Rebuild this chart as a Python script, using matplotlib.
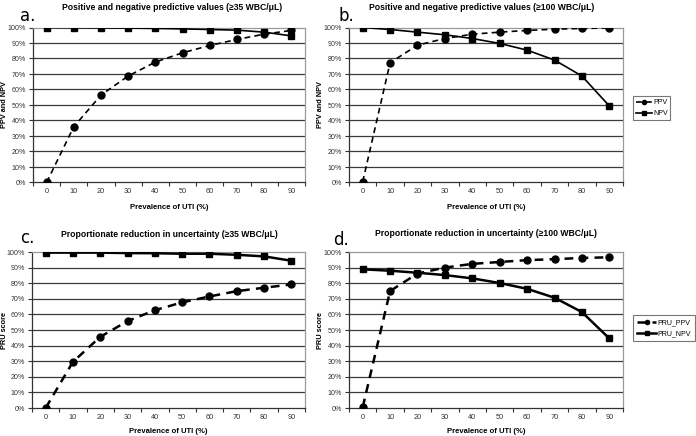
import matplotlib
matplotlib.use("Agg")
import matplotlib.pyplot as plt
from matplotlib.ticker import FixedLocator
import numpy as np

plt.rcParams['font.family'] = ['Liberation Sans', 'DejaVu Sans']

prevalence = [0, 10, 20, 30, 40, 50, 60, 70, 80, 90]
pct_ticks = [0, 10, 20, 30, 40, 50, 60, 70, 80, 90, 100]

# a. >=35 WBC/uL predictive values
ppv_35 = [0, 36.0, 56.4, 68.7, 77.7, 83.7, 88.4, 92.3, 95.7, 98.1]
npv_35 = [99.9, 99.8, 99.7, 99.6, 99.4, 99.1, 98.7, 98.3, 97.0, 94.6]
# b. >=100 WBC/uL predictive values
ppv_100 = [0.5, 77.3, 88.6, 92.9, 95.7, 97.0, 98.1, 98.9, 99.4, 99.7]
npv_100 = [100, 98.7, 97.0, 95.3, 92.9, 89.7, 85.4, 79.0, 68.7, 49.4]
# c. >=35 WBC/uL PRU
pru_ppv_35 = [0, 29.6, 45.6, 55.7, 62.7, 67.7, 71.5, 74.9, 77.1, 79.2]
pru_npv_35 = [99.6, 99.6, 99.6, 99.3, 99.2, 98.9, 98.9, 98.2, 97.2, 94.4]
# d. >=100 WBC/uL PRU
pru_ppv_100 = [0.5, 75.0, 86.2, 90.0, 92.4, 93.6, 94.8, 95.4, 96.2, 96.6]
pru_npv_100 = [88.9, 88.0, 86.7, 85.2, 83.1, 80.1, 76.4, 70.7, 61.5, 44.6]

W, H = 696.0, 436.0
fig = plt.figure(figsize=(6.96, 4.36), dpi=100)


def make_ax(left, top, right, bottom):
    return fig.add_axes([left / W, 1 - bottom / H, (right - left) / W, (bottom - top) / H])


def style_ax(ax):
    n = len(prevalence)
    ax.set_xlim(-0.5, n - 0.5)
    ax.set_ylim(0, 100)
    ax.set_xticks(range(n))
    ax.set_xticklabels([str(p) for p in prevalence])
    ax.xaxis.set_minor_locator(FixedLocator(np.arange(-0.5, n, 1.0)))
    ax.tick_params(axis='x', which='major', length=0, pad=4, labelsize=5.3, colors='#333333')
    ax.tick_params(axis='x', which='minor', length=3, width=0.8, direction='out', color='#333333')
    ax.set_yticks(pct_ticks)
    ax.set_yticklabels(['%d%%' % v for v in pct_ticks])
    ax.tick_params(axis='y', length=3, width=0.8, direction='out', pad=2, labelsize=5.1, colors='#333333')
    for y in pct_ticks[1:-1]:
        ax.axhline(y, color='#3a3a3a', lw=0.9, zorder=1)
    ax.spines['left'].set_color('#333333')
    ax.spines['bottom'].set_color('#333333')
    ax.spines['top'].set_color('#9a9a9a')
    ax.spines['right'].set_color('#9a9a9a')
    for s in ax.spines.values():
        s.set_linewidth(0.9)


def plot_pair(ax, pv, nv, lw, pv_label, nv_label):
    x = np.arange(len(prevalence))
    l1, = ax.plot(x, pv, color='black', ls=(0, (3.5, 2.5)), lw=lw, marker='o', ms=5, zorder=3,
                  label=pv_label)
    l2, = ax.plot(x, nv, color='black', ls='-', lw=lw, marker='s', ms=4.5, zorder=3,
                  label=nv_label)
    return l1, l2


axes = {
    'a': make_ax(33, 27.5, 305, 182.5),
    'b': make_ax(349, 27.5, 623, 182.5),
    'c': make_ax(32, 252, 305, 408),
    'd': make_ax(349, 252, 623, 408),
}
for ax in axes.values():
    style_ax(ax)

plot_pair(axes['a'], ppv_35, npv_35, 1.2, 'PPV', 'NPV')
hb = plot_pair(axes['b'], ppv_100, npv_100, 1.2, 'PPV', 'NPV')
plot_pair(axes['c'], pru_ppv_35, pru_npv_35, 1.8, 'PRU_PPV', 'PRU_NPV')
hd = plot_pair(axes['d'], pru_ppv_100, pru_npv_100, 1.8, 'PRU_PPV', 'PRU_NPV')

titles = {
    'a': 'Positive and negative predictive values (\u226535 WBC/\u03bcL)',
    'b': 'Positive and negative predictive values (\u2265100 WBC/\u03bcL)',
    'c': 'Proportionate reduction in uncertainty (\u226535 WBC/\u03bcL)',
    'd': 'Proportionate reduction in uncertainty (\u2265100 WBC/\u03bcL)',
}
title_pos = {'a': (172, 7), 'b': (482, 7), 'c': (169, 234), 'd': (486, 233)}
ylabels = {'a': 'PPV and NPV', 'b': 'PPV and NPV', 'c': 'PRU score', 'd': 'PRU score'}
ylab_x = {'a': 5, 'b': 321, 'c': 5, 'd': 321}
xlab_y = {'a': 207, 'b': 207, 'c': 431, 'd': 431}
letter_pos = {'a': (20, 16), 'b': (338, 16), 'c': (20, 238), 'd': (333, 240)}

for k, ax in axes.items():
    tx, ty = title_pos[k]
    fig.text(tx / W, 1 - ty / H, titles[k], ha='center', va='center', fontsize=6.2, fontweight='bold')
    pos = ax.get_position()
    fig.text(ylab_x[k] / W, pos.y0 + pos.height / 2, ylabels[k], rotation=90, ha='center', va='center',
             fontsize=5.3, fontweight='bold')
    fig.text(pos.x0 + pos.width / 2, 1 - xlab_y[k] / H, 'Prevalence of UTI (%)', ha='center', va='center',
             fontsize=5.5, fontweight='bold')
    lx, ly = letter_pos[k]
    fig.text(lx / W, 1 - ly / H, k + '.', ha='left', va='center', fontsize=12, family='DejaVu Sans')

leg_b = fig.legend(handles=list(hb), loc='upper left', bbox_to_anchor=(630 / W, 1 - 93 / H),
                   fontsize=5, frameon=True, fancybox=False, edgecolor='#555555',
                   handlelength=2.2, handletextpad=0.2, borderpad=0.4, labelspacing=0.6, markerscale=0.6)
leg_b.get_frame().set_linewidth(0.8)
leg_d = fig.legend(handles=list(hd), loc='upper left', bbox_to_anchor=(630 / W, 1 - 312 / H),
                   fontsize=5, frameon=True, fancybox=False, edgecolor='#555555',
                   handlelength=2.8, handletextpad=0.2, borderpad=0.5, labelspacing=0.6, markerscale=0.6)
leg_d.get_frame().set_linewidth(0.8)

fig.savefig('out.png', dpi=100)
